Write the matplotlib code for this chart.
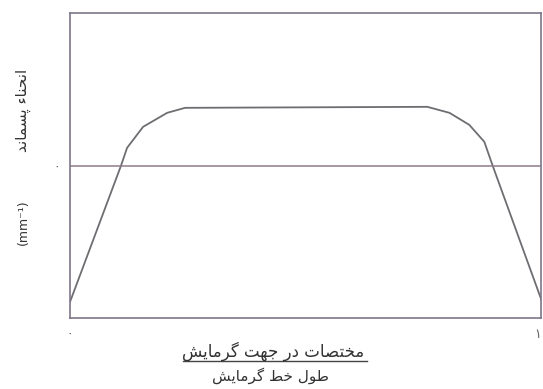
import matplotlib
matplotlib.use('Agg')
import matplotlib.pyplot as plt

# curve: normalized position along the heating line vs residual curvature
pos = [0.0, 0.108, 0.121, 0.155, 0.206, 0.244, 0.758, 0.805, 0.847, 0.879, 0.896, 1.0]
curv = [-1.36, 0.0, 0.18, 0.39, 0.53, 0.58, 0.59, 0.53, 0.41, 0.24, 0.01, -1.34]

xlabel_top = 'مختصات در جهت گرمایش'
xlabel_bottom = 'طول خط گرمایش'
ylabel_fa = 'انحناء پسماند'
ylabel_unit = '(mm⁻¹)'
xtick_labels = ['۰', '۱']
ytick_label = '۰'

# Arabic/Persian presentation forms: isolated, final, initial, medial
FORMS = {
    'ا': ('\uFE8D', '\uFE8E', None, None),
    'ء': ('\uFE80', None, None, None),
    'ت': ('\uFE95', '\uFE96', '\uFE97', '\uFE98'),
    'ج': ('\uFE9D', '\uFE9E', '\uFE9F', '\uFEA0'),
    'ح': ('\uFEA1', '\uFEA2', '\uFEA3', '\uFEA4'),
    'خ': ('\uFEA5', '\uFEA6', '\uFEA7', '\uFEA8'),
    'د': ('\uFEA9', '\uFEAA', None, None),
    'ر': ('\uFEAD', '\uFEAE', None, None),
    'س': ('\uFEB1', '\uFEB2', '\uFEB3', '\uFEB4'),
    'ش': ('\uFEB5', '\uFEB6', '\uFEB7', '\uFEB8'),
    'ص': ('\uFEB9', '\uFEBA', '\uFEBB', '\uFEBC'),
    'ط': ('\uFEC1', '\uFEC2', '\uFEC3', '\uFEC4'),
    'ل': ('\uFEDD', '\uFEDE', '\uFEDF', '\uFEE0'),
    'م': ('\uFEE1', '\uFEE2', '\uFEE3', '\uFEE4'),
    'ن': ('\uFEE5', '\uFEE6', '\uFEE7', '\uFEE8'),
    'ه': ('\uFEE9', '\uFEEA', '\uFEEB', '\uFEEC'),
    'و': ('\uFEED', '\uFEEE', None, None),
    'ی': ('\uFBFC', '\uFBFD', '\uFBFE', '\uFBFF'),
    'پ': ('\uFB56', '\uFB57', '\uFB58', '\uFB59'),
    'گ': ('\uFB92', '\uFB93', '\uFB94', '\uFB95'),
}


def shape(text):
    # crude reshaping + reversal so matplotlib draws it right-to-left
    out = []
    for i, ch in enumerate(text):
        if ch not in FORMS:
            out.append(ch)
            continue
        prev = text[i - 1] if i > 0 else ''
        nxt = text[i + 1] if i + 1 < len(text) else ''
        join_prev = prev in FORMS and FORMS[prev][2] is not None and FORMS[ch][1] is not None
        join_next = nxt in FORMS and FORMS[ch][2] is not None and FORMS[nxt][1] is not None
        iso, fin, ini, med = FORMS[ch]
        if join_prev and join_next:
            out.append(med)
        elif join_prev:
            out.append(fin)
        elif join_next:
            out.append(ini)
        else:
            out.append(iso)
    return ''.join(out)[::-1]


plt.rcParams['font.family'] = ['DejaVu Sans']

fig = plt.figure(figsize=(5.43, 3.89), dpi=100)
ax = fig.add_axes([0.129, 0.183, 0.868, 0.784])

frame_col = '#7d7689'
ax.plot(pos, curv, color='#6e6e72', linewidth=1.3)
ax.axhline(0, color='#8f7c8c', linewidth=1.1)

ax.set_xlim(0, 1)
ax.set_ylim(-1.52, 1.53)
for s in ax.spines.values():
    s.set_color(frame_col)
    s.set_linewidth(1.2)

ax.set_xticks([0, 1])
ax.set_xticklabels(xtick_labels, color='#666666', fontsize=9)
ax.get_xticklabels()[1].set_horizontalalignment('right')
ax.set_yticks([0])
ax.set_yticklabels([ytick_label], color='#666666', fontsize=9)
ax.tick_params(length=0, pad=7)

# y label: Persian words on top, unit further down (rotated)
ax.text(-0.1, 0.68, shape(ylabel_fa), transform=ax.transAxes,
        rotation=90, ha='center', va='center', fontsize=11, color='#333333')
ax.text(-0.1, 0.315, ylabel_unit, transform=ax.transAxes,
        rotation=90, ha='center', va='center', fontsize=9, color='#333333')

# x label written as a fraction
fig.text(0.503, 0.098, shape(xlabel_top), ha='center', va='center', fontsize=12, color='#333333')
fig.add_artist(plt.Line2D([0.337, 0.675], [0.073, 0.073], color='#444444', linewidth=1.0))
fig.text(0.498, 0.033, shape(xlabel_bottom), ha='center', va='center', fontsize=11, color='#333333')

fig.savefig('out.png', dpi=100)
